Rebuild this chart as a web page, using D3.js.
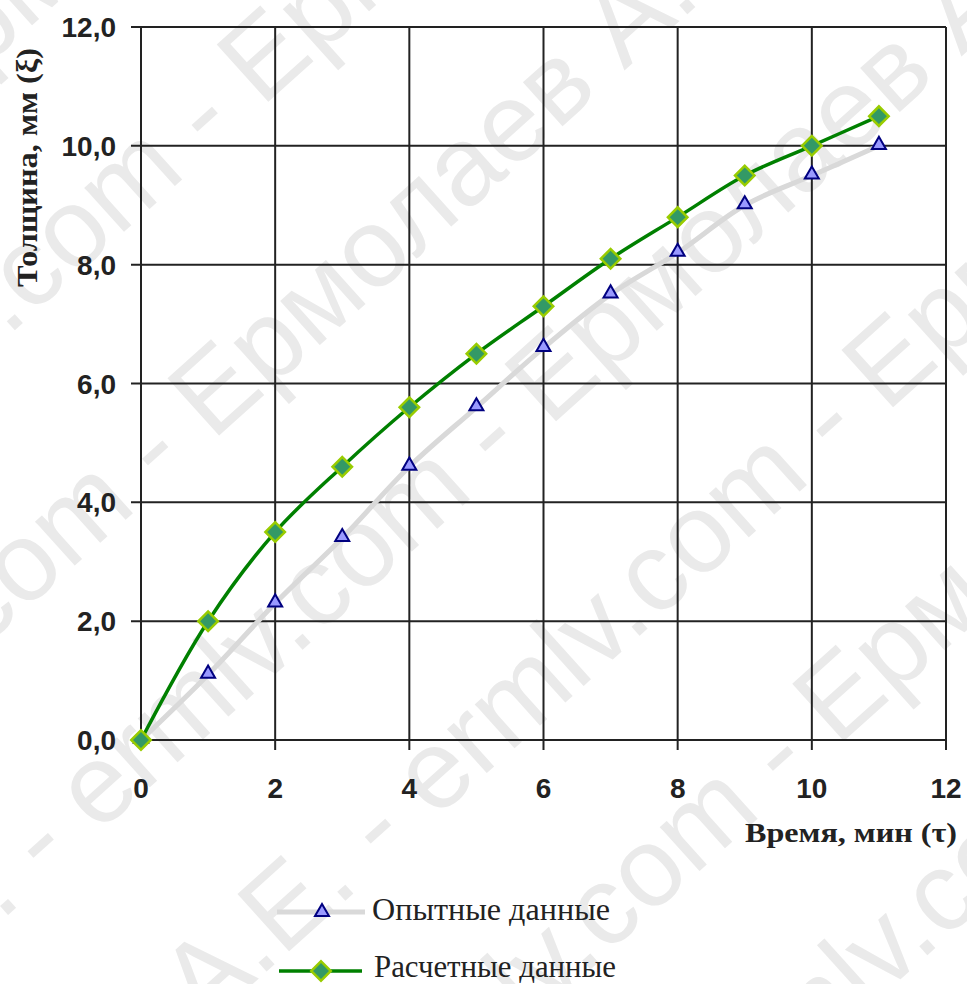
<!DOCTYPE html>
<html>
<head>
<meta charset="utf-8">
<script src="https://cdn.jsdelivr.net/npm/d3@7"></script>
<style>
  body { margin: 0; background: #fff; }
  svg { display: block; }
  .tick-label { font-family: "Liberation Sans", Arial, sans-serif; font-weight: bold; font-size: 28px; fill: #222; }
  .ax-title { font-family: "Liberation Serif", "Times New Roman", serif; font-weight: bold; fill: #222; }
  .leg-text { font-family: "Liberation Serif", "Times New Roman", serif; font-size: 31px; fill: #222; }
  .wm { font-family: "Liberation Sans", Arial, sans-serif; font-size: 112px; fill: #eaeaea; }
</style>
</head>
<body>
<div id="chart"></div>
<script>
// data
const times = [0, 1, 2, 3, 4, 5, 6, 7, 8, 9, 10, 11];
const experimental = [0, 1.1, 2.3, 3.4, 4.6, 5.6, 6.6, 7.5, 8.2, 9.0, 9.5, 10.0];
const calculated = [0, 2.0, 3.5, 4.6, 5.6, 6.5, 7.3, 8.1, 8.8, 9.5, 10.0, 10.5];
const xTicks = [0, 2, 4, 6, 8, 10, 12];
const yTicks = [0, 2, 4, 6, 8, 10, 12];
const seriesNames = ["Опытные данные", "Расчетные данные"];
const yTitle = "Толщина, мм (ξ)";
const xTitle = "Время, мин (τ)";
const watermarkText = "Ермолаев А.Е. - ermlv.com - ";

const Wd = 967, Ht = 984;
const M = { left: 141, right: 21, top: 27, bottom: 244 };

const svg = d3.select("#chart").append("svg").attr("width", Wd).attr("height", Ht);

// faint watermark behind everything
const wm = svg.append("g").attr("transform", "rotate(-42 480 490)");
d3.range(-5, 6).forEach(r => {
  wm.append("text").attr("class", "wm")
    .attr("x", -900 + (r % 2) * 260)
    .attr("y", 490 + r * 215)
    .text(watermarkText.repeat(4));
});

const x = d3.scaleLinear().domain([0, 12]).range([M.left, Wd - M.right]);
const y = d3.scaleLinear().domain([0, 12]).range([Ht - M.bottom, M.top]);
const fmt = d => d3.format(".1f")(d).replace(".", ",");

// gridlines (with outward tick stubs)
const grid = svg.append("g");
grid.selectAll("line.gx").data(xTicks).join("line")
  .attr("x1", d => x(d)).attr("x2", d => x(d))
  .attr("y1", y(12)).attr("y2", y(0) + 10)
  .attr("stroke", "#222").attr("stroke-width", 2);
grid.selectAll("line.gy").data(yTicks).join("line")
  .attr("y1", d => y(d)).attr("y2", d => y(d))
  .attr("x1", x(0) - 10).attr("x2", x(12))
  .attr("stroke", "#222").attr("stroke-width", 2);

// tick labels
svg.append("g").selectAll("text").data(yTicks).join("text")
  .attr("class", "tick-label").attr("text-anchor", "end")
  .attr("x", x(0) - 25).attr("y", d => y(d) + 10)
  .text(fmt);
svg.append("g").selectAll("text").data(xTicks).join("text")
  .attr("class", "tick-label").attr("text-anchor", "middle")
  .attr("x", d => x(d)).attr("y", y(0) + 58)
  .text(d => d);

// axis titles
svg.append("text").attr("class", "ax-title")
  .attr("transform", `translate(37,287) rotate(-90)`)
  .style("font-size", "30px")
  .attr("textLength", 239).attr("lengthAdjust", "spacingAndGlyphs")
  .text(yTitle);
svg.append("text").attr("class", "ax-title")
  .attr("x", 745).attr("y", 842)
  .style("font-size", "28px")
  .attr("textLength", 212).attr("lengthAdjust", "spacingAndGlyphs")
  .text(xTitle);

// lines
const line = d3.line().curve(d3.curveCatmullRom.alpha(0.5))
  .x((d, i) => x(times[i])).y(d => y(d));

svg.append("path").datum(experimental)
  .attr("d", line).attr("fill", "none")
  .attr("stroke", "#d9d9d9").attr("stroke-width", 5);
svg.append("path").datum(calculated)
  .attr("d", line).attr("fill", "none")
  .attr("stroke", "#008000").attr("stroke-width", 3.5);

const tri = d3.symbol().type(d3.symbolTriangle).size(85);
const dia = d3.symbol().type(d3.symbolSquare).size(190);

function triangle(g) {
  g.attr("d", tri()).attr("fill", "#9999ff").attr("stroke", "#000080").attr("stroke-width", 2);
}
function diamond(g) {
  g.attr("d", dia()).attr("fill", "#339966").attr("stroke", "#99cc00").attr("stroke-width", 2.5);
}

svg.append("g").selectAll("path").data(experimental).join("path")
  .attr("transform", (d, i) => `translate(${x(times[i])},${y(d) - 1})`)
  .call(triangle);
svg.append("g").selectAll("path").data(calculated).join("path")
  .attr("transform", (d, i) => `translate(${x(times[i])},${y(d)}) rotate(45)`)
  .call(diamond);

// legend
const leg = svg.append("g");
const l1 = leg.append("g").attr("transform", "translate(0,912)");
l1.append("line").attr("x1", 277).attr("x2", 365).attr("stroke", "#d9d9d9").attr("stroke-width", 5);
l1.append("path").attr("transform", "translate(322,0)").call(triangle);
l1.append("text").attr("class", "leg-text").attr("x", 372).attr("y", 8)
  .attr("textLength", 238).attr("lengthAdjust", "spacingAndGlyphs")
  .text(seriesNames[0]);

const l2 = leg.append("g").attr("transform", "translate(0,971)");
l2.append("line").attr("x1", 279).attr("x2", 362).attr("stroke", "#008000").attr("stroke-width", 3.5);
l2.append("path").attr("transform", "translate(321,0) rotate(45)").call(diamond);
l2.append("text").attr("class", "leg-text").attr("x", 374).attr("y", 6)
  .attr("textLength", 242).attr("lengthAdjust", "spacingAndGlyphs")
  .text(seriesNames[1]);
</script>
</body>
</html>
